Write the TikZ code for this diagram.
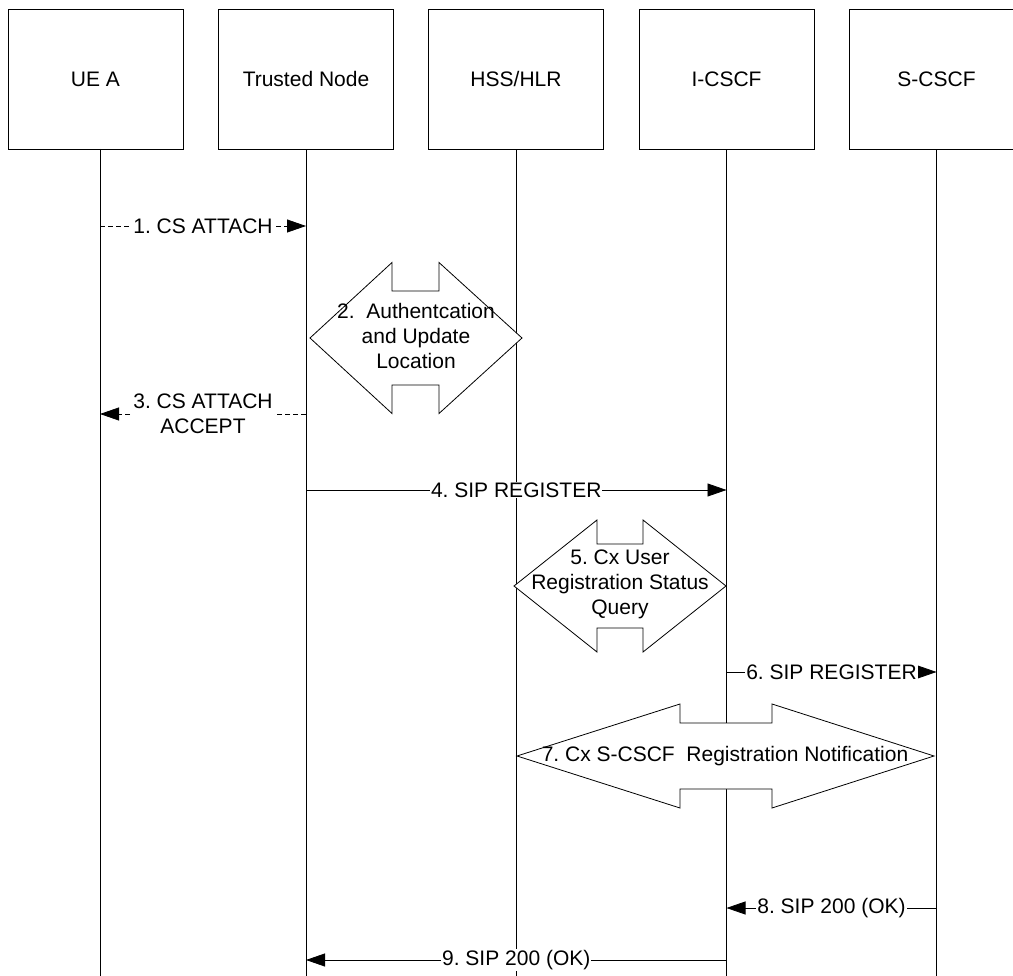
\documentclass[tikz,border=0pt]{standalone}
\usepackage{fontspec}
\setmainfont{Liberation Sans}
\usetikzlibrary{arrows.meta}
\frenchspacing

% double headed block arrow: left tip, right tip, mid y, head half height,
% shaft half height, neck left, neck right
\newcommand{\blockarrow}[7]{%
  \draw[fill=white] (#1,#3) -- (#6,#3-#4) -- (#6,#3-#5) -- (#7,#3-#5)
    -- (#7,#3-#4) -- (#2,#3) -- (#7,#3+#4) -- (#7,#3+#5) -- (#6,#3+#5)
    -- (#6,#3+#4) -- cycle;}

\begin{document}
\begin{tikzpicture}[x=1pt,y=-1pt,>={Triangle[length=19pt,width=13pt]},
    line width=0.8pt,font=\fontsize{21}{25}\selectfont,
    entity/.style={draw,minimum width=175pt,minimum height=140pt,inner sep=0pt},
    msglabel/.style={fill=white,inner sep=1pt,align=center},
    dashmsg/.style={dash pattern=on 5pt off 3pt},
    note/.style={align=center,inner sep=0pt}]
  \useasboundingbox (0,0) rectangle (1013,976);
  % entities
  \node[entity] (ue) at (95.5,79) {UE A};
  \node[entity] (tn) at (306,79) {Trusted Node};
  \node[entity] (hss) at (516,79) {HSS/HLR};
  \node[entity] (icscf) at (726.5,79) {I-CSCF};
  \node[entity] (scscf) at (936.5,79) {S-CSCF};
  % lifelines
  \coordinate (ueL) at (100,149);
  \coordinate (tnL) at (tn.south);
  \coordinate (hssL) at (hss.south);
  \coordinate (icscfL) at (icscf.south);
  \coordinate (scscfL) at (scscf.south);
  \foreach \n in {ueL,tnL,hssL,icscfL,scscfL}
    \draw (\n) -- ++(0,827);
  % message heights
  \coordinate (t1) at (0,226);
  \coordinate (t3) at (0,414);
  \coordinate (t4) at (0,490);
  \coordinate (t6) at (0,672);
  \coordinate (t8) at (0,908);
  \coordinate (t9) at (0,960);
  % procedures
  \blockarrow{310}{522}{338}{75.5}{47}{392}{439}
  \node[note] (auth) at (416,336) {2.~ Authentcation\\and Update\\Location};
  \blockarrow{514}{726}{586}{66}{42}{597}{643}
  \node[note] (query) at (620,584) {5. Cx User\\Registration Status\\Query};
  \blockarrow{517}{934}{756}{52}{33}{680}{772}
  \node[note] (notif) at (725,756) {7. Cx S-CSCF~ Registration Notification};
  % messages
  \draw[->,dashmsg] (ueL |- t1) -- node[msglabel] {1. CS ATTACH} (tnL |- t1);
  \draw[->,dashmsg] (tnL |- t3) -- node[msglabel] {3. CS ATTACH\\ACCEPT} (ueL |- t3);
  \draw[->] (tnL |- t4) -- node[msglabel] {4. SIP REGISTER} (icscfL |- t4);
  \draw[->] (icscfL |- t6) -- node[msglabel] {6. SIP REGISTER} (scscfL |- t6);
  \draw[->] (scscfL |- t8) -- node[msglabel] {8. SIP 200 (OK)} (icscfL |- t8);
  \draw[->] (icscfL |- t9) -- node[msglabel] {9. SIP 200 (OK)} (tnL |- t9);
\end{tikzpicture}
\end{document}
